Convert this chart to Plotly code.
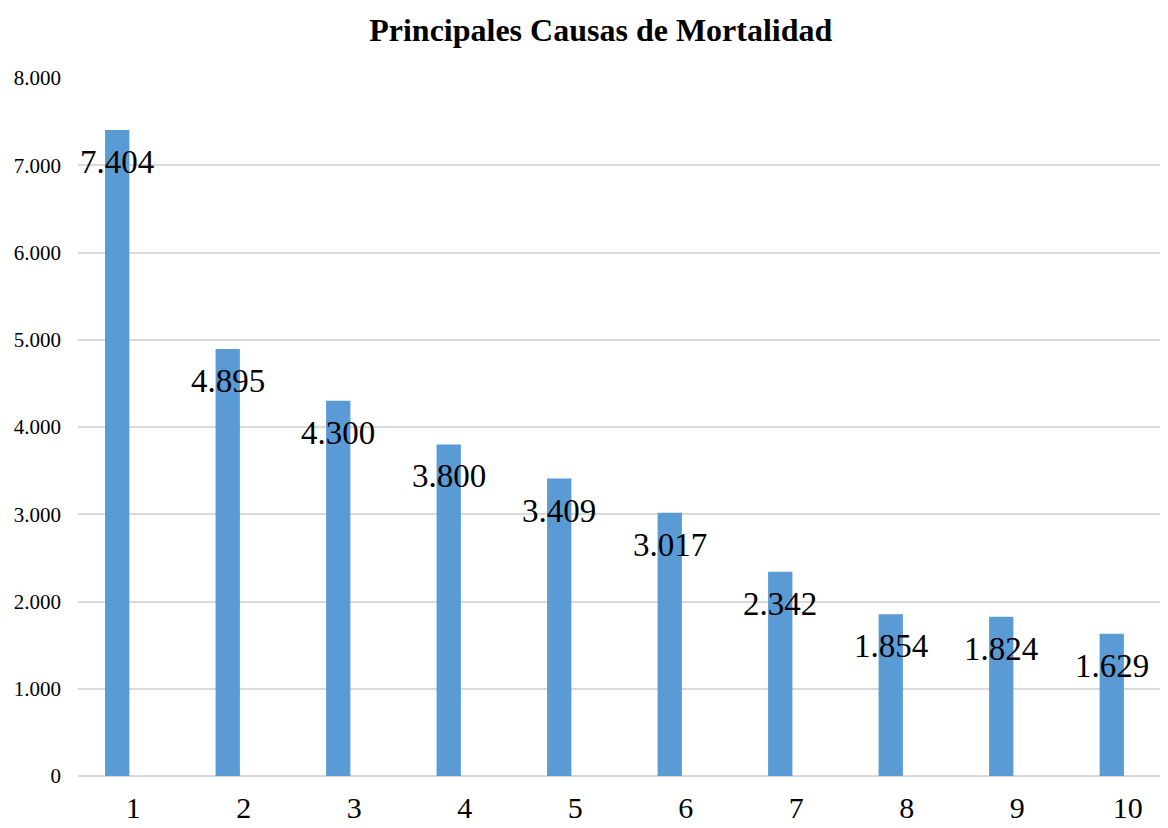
import plotly.graph_objects as go

# main causes of mortality, ranked 1..10
causes = [1, 2, 3, 4, 5, 6, 7, 8, 9, 10]
deaths = [7404, 4895, 4300, 3800, 3409, 3017, 2342, 1854, 1824, 1629]
y_ticks = [0, 1000, 2000, 3000, 4000, 5000, 6000, 7000, 8000]

labels = [f"{v:,}".replace(",", ".") for v in deaths]

fig = go.Figure(
    go.Bar(
        x=causes,
        y=deaths,
        width=0.22,
        offset=-0.255,
        marker=dict(color="#5B9BD5", line=dict(width=0)),
        hoverinfo="x+y",
    )
)

# data labels sit just below the top of each bar, centred on it
for c, v, t in zip(causes, deaths, labels):
    fig.add_annotation(
        x=c - 0.145,
        y=v,
        text=t,
        showarrow=False,
        yanchor="middle",
        yshift=-32,
        font=dict(family="Liberation Serif", size=33, color="black"),
    )

# page body has an 8px margin, so the figure is a bit smaller than the window
fig.update_layout(
    title=dict(
        text="<b>Principales Causas de Mortalidad</b>",
        x=0.511,
        xref="container",
        xanchor="center",
        y=1 - 22 / 820,
        yref="container",
        yanchor="middle",
        font=dict(family="Liberation Serif", size=32, color="black"),
    ),
    width=1160,
    height=820,
    margin=dict(l=70, r=0, t=70, b=52),
    plot_bgcolor="white",
    paper_bgcolor="white",
    separators=",.",
    showlegend=False,
    font=dict(family="Liberation Serif", color="black"),
)

fig.update_xaxes(
    tickvals=causes,
    ticktext=[str(c) for c in causes],
    range=[0.5, 10.364],
    showgrid=False,
    zeroline=False,
    showline=False,
    ticks="",
    tickfont=dict(size=30),
    ticklabelstandoff=11,
    automargin=False,
)

fig.update_yaxes(
    range=[0, 8000],
    tickvals=y_ticks,
    tickformat=",d",
    showgrid=True,
    gridcolor="#D9D9D9",
    gridwidth=1.5,
    zeroline=True,
    zerolinecolor="#D9D9D9",
    zerolinewidth=1.5,
    showline=False,
    ticks="",
    tickfont=dict(size=21),
    ticklabelstandoff=16,
    automargin=False,
)

fig.write_html("out.html")
